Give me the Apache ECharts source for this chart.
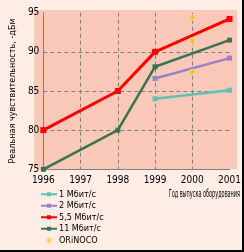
<!DOCTYPE html>
<html><head><meta charset="utf-8">
<script src="https://cdn.jsdelivr.net/npm/echarts@6/dist/echarts.min.js"></script>
<style>html,body{margin:0;padding:0;background:#fdede5;}#c{width:244px;height:252px;}</style>
</head><body><div id="c"></div>
<script>
const years = [1996, 1997, 1998, 1999, 2000, 2001];
const s1Years = [1999, 2001];
const s1 = [84, 85.1];
const s2Years = [1999, 2001];
const s2 = [86.6, 89.2];
const s55Years = [1996, 1998, 1999, 2001];
const s55 = [80, 85, 90, 94.2];
const s11Years = [1996, 1998, 1999, 2001];
const s11 = [75, 80, 88.1, 91.5];
const orinocoYears = [2000, 2000, 2000];
const orinoco = [94.4, 91.4, 87.4];
const names = ['1 Мбит/с', '2 Мбит/с', '5,5 Мбит/с', '11 Мбит/с', 'ORiNOCO'];
const yTicks = [75, 80, 85, 90, 95];

const pair = (xs, ys) => xs.map((x, i) => [x, ys[i]]);
const F = '"DejaVu Sans Condensed","DejaVu Sans",sans-serif';
const chart = echarts.init(document.getElementById('c'), null, {renderer: 'canvas'});
function line(name, xs, ys, color, w, sym) {
  return {name, type: 'line', data: pair(xs, ys), symbol: 'rect', symbolSize: sym,
    lineStyle: {color, width: w}, itemStyle: {color}, z: 3, animation: false};
}
chart.setOption({
  backgroundColor: '#fdede5',
  animation: false,
  grid: {left: 34.5, right: 11.3, top: 12.7, bottom: 82.7, show: false},
  graphic: [
    {type: 'rect', z: -10, silent: true, shape: {x: 34, y: 10, width: 203, height: 159}, style: {fill: '#fac8b8'}},
    {type: 'rect', z: 100, silent: true, shape: {x: 242, y: 0, width: 2, height: 252}, style: {fill: '#000'}},
    {type: 'rect', z: 100, silent: true, shape: {x: 0, y: 250, width: 244, height: 2}, style: {fill: '#000'}},
    {type: 'text', z: 100, x: 240, y: 194.5, scaleX: 0.5, originX: 0, originY: 0,
      style: {text: 'Год выпуска оборудования', font: '11px ' + F, fill: '#000', align: 'right', verticalAlign: 'middle'}}
  ],
  xAxis: {type: 'value', min: years[0], max: years[years.length - 1], interval: 1,
    axisLine: {lineStyle: {color: '#808080', width: 1}}, axisTick: {show: false},
    axisLabel: {color: '#000', fontFamily: F, fontSize: 10, margin: 6, formatter: v => String(v)},
    splitLine: {show: true, showMinLine: false, showMaxLine: false, lineStyle: {color: '#808080', type: [4, 3], width: 1}}},
  yAxis: {type: 'value', min: yTicks[0], max: yTicks[yTicks.length - 1], interval: 5,
    name: 'Реальная чувствительность, -дБм', nameLocation: 'middle', nameGap: 23,
    nameTextStyle: {color: '#000', fontFamily: F, fontSize: 9},
    axisLine: {show: true, lineStyle: {color: '#808080', width: 1}}, axisTick: {show: false},
    axisLabel: {color: '#000', fontFamily: F, fontSize: 10, margin: 4},
    splitLine: {show: true, showMinLine: false, showMaxLine: false, lineStyle: {color: '#808080', type: [4, 3], width: 1}}},
  legend: {orient: 'vertical', left: 40, top: 189, padding: 0, itemWidth: 16, itemHeight: 5, itemGap: 1,
    height: 70,
    textStyle: {color: '#000', fontFamily: F, fontSize: 9, lineHeight: 10.5, padding: [0, 0, 0, -3]},
    data: names.map(n => ({name: n, icon: n === 'ORiNOCO' ? 'circle' : undefined}))},
  series: [
    line(names[0], s1Years, s1, '#5ec3b3', 2.5, 5),
    line(names[1], s2Years, s2, '#9a80c6', 2.5, 5),
    line(names[2], s55Years, s55, '#ff0000', 3, 6),
    line(names[3], s11Years, s11, '#3a7350', 2.5, 5),
    {name: names[4], type: 'scatter', data: pair(orinocoYears, orinoco), symbol: 'circle', symbolSize: 6,
      itemStyle: {color: '#f3c030', borderColor: '#fbe49a', borderWidth: 1}, z: 4}
  ]
});
</script></body></html>
